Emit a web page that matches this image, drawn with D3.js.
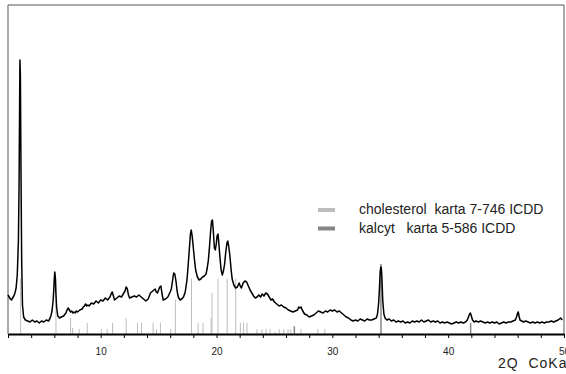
<!DOCTYPE html>
<html>
<head>
<meta charset="utf-8">
<script src="https://cdn.jsdelivr.net/npm/d3@7"></script>
<style>
  body { margin: 0; background: #fff; }
  svg { display: block; font-family: "Liberation Sans", Arial, sans-serif; }
</style>
</head>
<body>
<div id="chart"></div>
<script>
// diffraction scan, 2 theta (deg) and counts
const twoTheta = [
  2.0, 2.1, 2.2, 2.3, 2.4, 2.5, 2.6, 2.7, 2.8, 2.9, 2.95, 3.0, 3.03, 3.07, 3.12, 3.18, 3.25, 3.35, 3.5,
  3.7, 3.9, 4.1, 4.3, 4.5, 4.7, 4.9, 5.1, 5.3, 5.5, 5.6, 5.7, 5.8, 5.9, 5.95, 6.0, 6.04, 6.08, 6.13, 6.2, 6.3, 6.45, 6.6, 6.8,
  7.0, 7.1, 7.2, 7.3, 7.4, 7.5, 7.6, 7.7, 7.8, 7.9, 8.0, 8.2, 8.4, 8.5, 8.6, 8.7, 8.8, 8.9, 9.0, 9.2, 9.4, 9.6, 9.8,
  10.0, 10.2, 10.4, 10.6, 10.8, 10.9, 11.0, 11.1, 11.2, 11.4, 11.6, 11.8, 12.0, 12.1, 12.2, 12.3, 12.4, 12.5, 12.7, 12.9,
  13.1, 13.3, 13.5, 13.7, 13.9, 14.1, 14.3, 14.5, 14.7, 14.8, 14.9, 15.0, 15.1, 15.2, 15.3, 15.4, 15.6, 15.8,
  16.0, 16.1, 16.2, 16.3, 16.4, 16.5, 16.6, 16.7, 16.85, 17.0, 17.15, 17.3, 17.45, 17.55, 17.65, 17.75, 17.82, 17.9,
  18.0, 18.1, 18.2, 18.35, 18.5, 18.65, 18.8, 18.95, 19.1, 19.2, 19.3, 19.4, 19.5, 19.58, 19.65, 19.73, 19.82, 19.9, 19.98,
  20.05, 20.13, 20.2, 20.3, 20.4, 20.5, 20.6, 20.7, 20.8, 20.9, 20.97, 21.05, 21.15, 21.25, 21.35, 21.5, 21.65, 21.8, 21.95,
  22.05, 22.15, 22.3, 22.45, 22.6, 22.75, 22.9, 23.05, 23.2, 23.35, 23.5, 23.65, 23.8, 23.95, 24.1, 24.25, 24.4, 24.55, 24.7, 24.85,
  25.0, 25.2, 25.4, 25.6, 25.8, 26.0, 26.2, 26.4, 26.6, 26.8, 27.0, 27.1, 27.2, 27.3, 27.4, 27.6, 27.8, 28.0, 28.2, 28.4, 28.6, 28.8,
  29.0, 29.2, 29.4, 29.6, 29.8, 30.0, 30.2, 30.4, 30.6, 30.8, 31.0, 31.2, 31.4, 31.6, 31.8, 32.0, 32.2, 32.4, 32.6, 32.8,
  33.0, 33.2, 33.4, 33.6, 33.8, 33.9, 34.0, 34.07, 34.13, 34.18, 34.23, 34.28, 34.35, 34.45, 34.55, 34.7, 34.9,
  35.1, 35.3, 35.5, 35.7, 35.9, 36.1, 36.3, 36.5, 36.7, 36.9, 37.1, 37.3, 37.5, 37.7, 37.9, 38.1, 38.3, 38.5, 38.7, 38.9,
  39.1, 39.3, 39.5, 39.7, 39.9, 40.1, 40.3, 40.5, 40.7, 40.9, 41.1, 41.3, 41.5, 41.65, 41.75, 41.85, 41.92, 42.0, 42.1, 42.25,
  42.4, 42.6, 42.8, 43.0, 43.2, 43.4, 43.6, 43.8, 44.0, 44.2, 44.4, 44.6, 44.8, 45.0, 45.2, 45.4, 45.6, 45.8, 45.9,
  46.0, 46.05, 46.12, 46.2, 46.35, 46.5, 46.7, 46.9, 47.1, 47.3, 47.5, 47.7, 47.9, 48.1, 48.3, 48.5, 48.7, 48.9,
  49.1, 49.3, 49.5, 49.7, 49.85
];
const counts = [
  390, 370, 350, 340, 360, 380, 410, 460, 590, 940, 1440, 2240, 2740, 2590, 1640, 740, 290, 170, 140,
  130, 120, 140, 120, 130, 110, 130, 120, 140, 130, 150, 180, 230, 340, 440, 560, 620, 580, 420, 260, 180, 160, 170, 180,
  210, 240, 260, 240, 220, 230, 210, 220, 210, 230, 220, 240, 250, 270, 280, 300, 280, 290, 280, 310, 300, 330, 310,
  340, 330, 360, 340, 370, 400, 420, 380, 340, 360, 380, 370, 410, 430, 470, 450, 390, 360, 370, 380,
  370, 390, 370, 350, 330, 350, 410, 430, 450, 420, 410, 440, 470, 480, 400, 340, 350, 370,
  420, 450, 530, 610, 600, 530, 430, 370, 340, 350, 370, 420, 540, 680, 840, 1000, 1040, 980,
  860, 740, 640, 570, 540, 550, 570, 580, 600, 660, 740, 880, 1040, 1130, 1140, 1020, 860, 840, 900,
  980, 1000, 910, 760, 640, 590, 630, 700, 820, 910, 930, 880, 790, 660, 550, 490, 460, 470, 510,
  480, 460, 510, 530, 520, 480, 440, 410, 380, 360, 370, 390, 370, 400, 380, 410, 400, 370, 340, 350,
  320, 300, 280, 290, 270, 260, 240, 230, 220, 230, 240, 270, 260, 270, 240, 200, 190, 170, 180, 190, 210, 230,
  220, 210, 230, 220, 240, 230, 240, 220, 230, 210, 190, 170, 160, 140, 130, 140, 130, 150, 140, 130,
  150, 140, 140, 150, 160, 200, 310, 460, 620, 670, 660, 560, 340, 200, 160, 140, 150,
  130, 140, 120, 130, 120, 130, 110, 120, 110, 130, 120, 130, 120, 140, 120, 130, 140, 120, 130, 120,
  130, 110, 120, 110, 120, 110, 100, 110, 120, 110, 120, 110, 120, 140, 170, 200, 210, 180, 140, 120,
  130, 120, 130, 120, 110, 120, 110, 120, 110, 120, 100, 110, 120, 110, 120, 120, 130, 140, 170,
  210, 220, 180, 140, 130, 120, 130, 120, 110, 120, 110, 120, 110, 120, 110, 120, 120, 130,
  120, 130, 140, 160, 140
];

// reference cards (stick patterns), relative intensity
const cholPos = [3.09, 6.14, 7.40, 7.58, 8.15, 8.84, 10.07, 10.56, 11.03, 12.20, 13.18, 13.52, 14.53, 14.82, 15.16,
  16.05, 16.45, 17.84, 18.41, 18.84, 19.54, 19.61, 20.13, 20.92, 21.66, 22.06, 22.34, 22.63, 23.49, 23.92,
  24.28, 24.63, 25.06, 25.41, 25.81, 26.18, 26.42, 27.30, 28.75, 29.35];
const cholInt = [79, 79, 23, 9, 7, 16, 7, 7, 16, 23, 16, 16, 16, 7, 16,
  7, 49, 79, 16, 16, 23, 59, 79, 79, 79, 16, 16, 16, 7, 7,
  7, 7, 3, 7, 7, 7, 7, 7, 7, 7];
const calcPos = [26.72, 34.2, 41.94];
const calcInt = [11, 100, 16];

const xTicks = [2, 4, 6, 8, 10, 12, 14, 16, 18, 20, 22, 24, 26, 28, 30, 32, 34, 36, 38, 40, 42, 44, 46, 48, 50];
const xLabels = [10, 20, 30, 40, 50];
const legendLabels = ["cholesterol  karta 7-746 ICDD", "kalcyt   karta 5-586 ICDD"];
const xTitle = "2Q  CoKa";

const margin = { top: 5, right: 2, bottom: 40, left: 8 },
  width = 566 - margin.left - margin.right,
  height = 374 - margin.top - margin.bottom;

const svg = d3.select("#chart").append("svg")
  .attr("width", 566)
  .attr("height", 374);

const g = svg.append("g")
  .attr("transform", "translate(" + margin.left + "," + margin.top + ")");

const x = d3.scaleLinear().domain([2, 50]).range([0, width]);
const y = d3.scaleLinear().domain([0, 3290]).range([height, 0]);
const yStick = d3.scaleLinear().domain([0, 100]).range([height, height - 70]);

// frame (left, top, right)
g.append("path")
  .attr("d", "M0," + height + "V0H" + width + "V" + height)
  .attr("fill", "none")
  .attr("stroke", "#555")
  .attr("stroke-width", 1);

// stick patterns
g.selectAll(".chol")
  .data(cholPos.map((p, i) => ({ p: p, v: cholInt[i] })))
  .enter().append("line")
  .attr("class", "chol")
  .attr("x1", d => x(d.p)).attr("x2", d => x(d.p))
  .attr("y1", height).attr("y2", d => yStick(d.v))
  .attr("stroke", "#bdbdbd")
  .attr("stroke-width", 1);

g.selectAll(".calc")
  .data(calcPos.map((p, i) => ({ p: p, v: calcInt[i] })))
  .enter().append("line")
  .attr("class", "calc")
  .attr("x1", d => x(d.p)).attr("x2", d => x(d.p))
  .attr("y1", height).attr("y2", d => yStick(d.v))
  .attr("stroke", "#858585")
  .attr("stroke-width", 1.5);

// measured scan
const line = d3.line()
  .x((d, i) => x(twoTheta[i]))
  .y(d => y(d));

g.append("path")
  .datum(counts)
  .attr("d", line)
  .attr("fill", "none")
  .attr("stroke", "#000")
  .attr("stroke-width", 1.5)
  .attr("stroke-linejoin", "round");

// x axis
const xAxis = g.append("g")
  .attr("transform", "translate(0," + height + ")")
  .call(d3.axisBottom(x)
    .tickValues(xTicks)
    .tickSize(4)
    .tickSizeOuter(0)
    .tickPadding(10)
    .tickFormat(d => xLabels.includes(d) ? d : ""));
xAxis.select(".domain").attr("stroke", "#000").attr("stroke-width", 2);
xAxis.selectAll(".tick line").attr("stroke", "#000");
xAxis.selectAll(".tick text")
  .attr("font-size", 10)
  .attr("font-family", "'Liberation Sans', Arial, sans-serif")
  .attr("fill", "#222");

svg.append("text")
  .attr("x", 498)
  .attr("y", 368)
  .attr("font-size", 14)
  .attr("letter-spacing", 1)
  .style("white-space", "pre")
  .attr("fill", "#222")
  .text(xTitle);

// legend
const legendColors = ["#bdbdbd", "#858585"];
const legend = svg.append("g").attr("transform", "translate(318,210)");
legendLabels.forEach((lab, i) => {
  legend.append("line")
    .attr("x1", 0).attr("x2", 17)
    .attr("y1", i * 18.5).attr("y2", i * 18.5)
    .attr("stroke", legendColors[i])
    .attr("stroke-width", 4);
  legend.append("text")
    .attr("x", 41)
    .attr("y", i * 18.5 + 4)
    .attr("font-size", 14)
    .style("white-space", "pre")
    .attr("fill", "#222")
    .text(lab);
});
</script>
</body>
</html>
